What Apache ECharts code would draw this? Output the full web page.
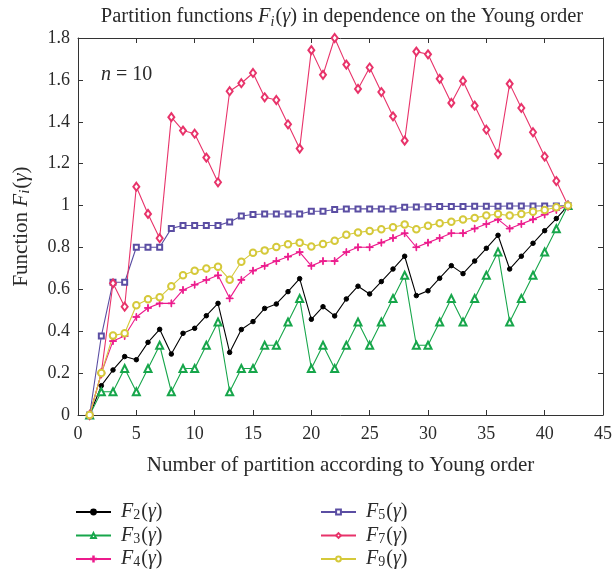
<!DOCTYPE html>
<html>
<head>
<meta charset="utf-8">
<script src="https://cdn.jsdelivr.net/npm/echarts@6/dist/echarts.min.js"></script>
<style>
html,body{margin:0;padding:0;background:#fff;}
#chart{width:615px;height:574px;}
</style>
</head>
<body>
<div id="chart"></div>
<script>
// ---- data ----
const partitionIndex = [1,2,3,4,5,6,7,8,9,10,11,12,13,14,15,16,17,18,19,20,21,22,23,24,25,26,27,28,29,30,31,32,33,34,35,36,37,38,39,40,41,42];
const F2 = [0,0.140,0.215,0.279,0.264,0.347,0.409,0.291,0.390,0.414,0.474,0.533,0.299,0.408,0.446,0.509,0.530,0.589,0.651,0.457,0.517,0.473,0.554,0.615,0.578,0.637,0.697,0.758,0.570,0.593,0.653,0.713,0.675,0.735,0.796,0.858,0.697,0.758,0.820,0.880,0.938,1.0];
const F3 = [0,0.111,0.111,0.222,0.111,0.222,0.333,0.111,0.222,0.222,0.333,0.444,0.111,0.222,0.222,0.333,0.333,0.444,0.556,0.222,0.333,0.222,0.333,0.444,0.333,0.444,0.556,0.667,0.333,0.333,0.444,0.556,0.444,0.556,0.667,0.778,0.444,0.556,0.667,0.778,0.889,1.0];
const F4 = [0,0.2,0.353,0.377,0.468,0.511,0.533,0.533,0.597,0.622,0.645,0.667,0.557,0.645,0.689,0.712,0.735,0.756,0.778,0.712,0.735,0.735,0.778,0.801,0.801,0.823,0.845,0.868,0.801,0.823,0.845,0.868,0.868,0.890,0.912,0.934,0.890,0.912,0.934,0.957,0.979,1.0];
const F5 = [0,0.377,0.634,0.634,0.801,0.801,0.801,0.891,0.905,0.905,0.905,0.905,0.922,0.950,0.957,0.960,0.960,0.960,0.960,0.973,0.973,0.981,0.984,0.984,0.984,0.984,0.984,0.992,0.993,0.994,0.996,0.996,0.996,0.997,0.997,0.997,0.998,0.998,0.998,0.998,0.998,1.0];
const F7 = [0,0.2,0.629,0.517,1.09,0.960,0.844,1.422,1.358,1.343,1.229,1.111,1.546,1.584,1.633,1.517,1.504,1.388,1.272,1.742,1.624,1.800,1.673,1.557,1.659,1.542,1.426,1.310,1.735,1.722,1.605,1.490,1.595,1.477,1.362,1.246,1.581,1.466,1.350,1.234,1.117,1.0];
const F9 = [0,0.2,0.379,0.390,0.524,0.553,0.562,0.615,0.667,0.689,0.699,0.708,0.646,0.732,0.775,0.786,0.802,0.815,0.823,0.804,0.817,0.832,0.861,0.871,0.879,0.887,0.896,0.909,0.887,0.904,0.915,0.923,0.933,0.941,0.952,0.960,0.952,0.960,0.971,0.979,0.992,1.0];
const xTicks = [0,5,10,15,20,25,30,35,40,45];
const yTicks = [0,0.2,0.4,0.6,0.8,1,1.2,1.4,1.6,1.8];
const seriesNames = ['F2','F3','F4','F5','F7','F9'];
const seriesSubs = ['2','3','4','5','7','9'];

// ---- styling ----
const FONT = '"Liberation Serif", "DejaVu Serif", serif';
const TXT = '#2a2a2a';
const plusPath = 'path://M4.5,0 L5.5,0 L5.5,4.5 L10,4.5 L10,5.5 L5.5,5.5 L5.5,10 L4.5,10 L4.5,5.5 L0,5.5 L0,4.5 L4.5,4.5 Z';
const styles = {
  F2: {color:'#000000', symbol:'circle', size:4.5},
  F3: {color:'#17a64b', symbol:'emptyTriangle', size:7},
  F4: {color:'#ec1a8c', symbol:plusPath, size:7},
  F5: {color:'#5b4ea3', symbol:'emptyRect', size:5},
  F7: {color:'#e8336a', symbol:'emptyDiamond', size:[6,8]},
  F9: {color:'#d5c93a', symbol:'emptyCircle', size:6.5}
};
const valuesByName = {F2, F3, F4, F5, F7, F9};

function makeRich(size, lh) {
  const sub = Math.round(size * 0.7);
  return {
    n: {fontFamily: FONT, fontSize: size, fontWeight: 'normal', color: TXT, lineHeight: lh},
    i: {fontFamily: FONT, fontSize: size, fontWeight: 'normal', fontStyle: 'italic', color: TXT, lineHeight: lh},
    fi: {fontFamily: FONT, fontSize: size, fontWeight: 'normal', fontStyle: 'italic', color: TXT, lineHeight: lh, padding:[0,0,0,5]},
    si: {fontFamily: FONT, fontSize: sub, fontWeight: 'normal', fontStyle: 'italic', color: TXT, verticalAlign: 'bottom', lineHeight: lh, padding:[Math.round(size*0.3),1,0,0]},
    s: {fontFamily: FONT, fontSize: sub, fontWeight: 'normal', color: TXT, verticalAlign: 'bottom', lineHeight: lh, padding:[Math.round(size*0.3),1,0,0]}
  };
}

const chart = echarts.init(document.getElementById('chart'), null, {renderer:'canvas'});

const series = seriesNames.map(name => {
  const st = styles[name];
  return {
    name: name,
    type: 'line',
    data: partitionIndex.map((x, k) => [x, valuesByName[name][k]]),
    symbol: st.symbol,
    symbolSize: st.size,
    showAllSymbol: true,
    lineStyle: {color: st.color, width: 1.1},
    itemStyle: {color: st.color, borderColor: st.color, borderWidth: 1},
    emphasis: {disabled: true},
    animation: false,
    z: 2
  };
});

const legendFormatter = name => '{fi|F}{s|' + seriesSubs[seriesNames.indexOf(name)] + '}{n|(}{i|γ}{n|)}';
const legendRich = makeRich(20, 21);

const option = {
  backgroundColor: '#ffffff',
  animation: false,
  title: [
    {
      text: '{n|Partition functions }{i|F}{si|i}{n|(}{i|γ}{n|) in dependence on the Young order}',
      left: 337, top: 0, textAlign: 'center',
      textStyle: {fontWeight: 'normal', rich: makeRich(20.5, 24)}
    },
    {
      text: '{i|n}{n| = 10}',
      left: 96, top: 58,
      textStyle: {fontWeight: 'normal', rich: makeRich(20, 24)}
    }
  ],
  grid: {left: 78, right: 10, top: 38, bottom: 159, containLabel: false},
  xAxis: [
    {
      type: 'value', min: 0, max: 45, interval: 5,
      name: 'Number of partition according to Young order',
      nameLocation: 'middle', nameGap: 40,
      nameTextStyle: {fontFamily: FONT, fontSize: 21, color: TXT},
      axisLine: {show: true, onZero: false, lineStyle: {color: '#333', width: 1}},
      axisTick: {show: true, inside: true, length: 5, lineStyle: {color: '#333'}},
      axisLabel: {fontFamily: FONT, fontSize: 18, color: TXT, margin: 10,
        formatter: v => xTicks.includes(v) ? String(v) : ''},
      splitLine: {show: false}
    },
    {
      type: 'value', min: 0, max: 45, interval: 5, position: 'top',
      axisLine: {show: true, onZero: false, lineStyle: {color: '#333', width: 1}},
      axisTick: {show: true, inside: true, length: 5, lineStyle: {color: '#333'}},
      axisLabel: {show: false},
      splitLine: {show: false}
    }
  ],
  yAxis: [
    {
      type: 'value', min: 0, max: 1.8, interval: 0.2,
      name: '{n|Function }{i|F}{si|i}{n|(}{i|γ}{n|)}',
      nameLocation: 'middle', nameGap: 45, nameRotate: 90,
      nameTextStyle: {rich: makeRich(21, 23)},
      axisLine: {show: true, onZero: false, lineStyle: {color: '#333', width: 1}},
      axisTick: {show: true, inside: true, length: 5, lineStyle: {color: '#333'}},
      axisLabel: {fontFamily: FONT, fontSize: 18, color: TXT, margin: 8,
        formatter: v => {
          const t = yTicks.find(y => Math.abs(y - v) < 1e-6);
          return t === undefined ? '' : String(t);
        }},
      splitLine: {show: false}
    },
    {
      type: 'value', min: 0, max: 1.8, interval: 0.2, position: 'right',
      axisLine: {show: true, onZero: false, lineStyle: {color: '#333', width: 1}},
      axisTick: {show: true, inside: true, length: 5, lineStyle: {color: '#333'}},
      axisLabel: {show: false},
      splitLine: {show: false}
    }
  ],
  legend: [
    {
      data: seriesNames.slice(0, 3),
      orient: 'vertical', left: 75, top: 502, height: 72,
      itemWidth: 35, itemHeight: 6, itemGap: 3, padding: 0,
      selectedMode: false,
      formatter: legendFormatter,
      textStyle: {rich: legendRich}
    },
    {
      data: seriesNames.slice(3, 6),
      orient: 'vertical', left: 320, top: 502, height: 72,
      itemWidth: 35, itemHeight: 6, itemGap: 3, padding: 0,
      selectedMode: false,
      formatter: legendFormatter,
      textStyle: {rich: legendRich}
    }
  ],
  series: series
};

chart.setOption(option);
</script>
</body>
</html>
